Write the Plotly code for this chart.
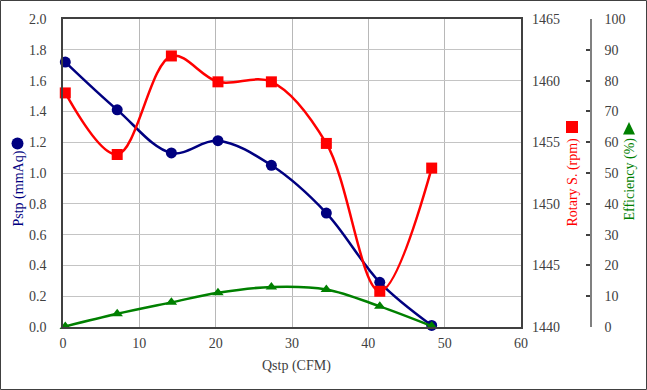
import plotly.graph_objects as go

# ---- data ----
qstp = [0.3, 7.1, 14.2, 20.3, 27.3, 34.5, 41.5, 48.3]
pstp = [1.72, 1.41, 1.13, 1.21, 1.05, 0.74, 0.29, 0.01]
rotary = [1459.0, 1454.0, 1462.0, 1459.9, 1459.9, 1454.9, 1442.9, 1452.9]
efficiency = [0.2, 4.3, 8.0, 11.1, 13.0, 12.2, 6.7, 0.3]

x_ticks = [0, 10, 20, 30, 40, 50, 60]

W, H = 647, 390
ML, MR, MT, MB = 63, 10, 19, 63
PW = W - ML - MR
PH = H - MT - MB
X_END = 521
EFF_X = 591


def px(xp):
    return (xp - ML) / PW


def py(yp):
    return (H - MB - yp) / PH


FONT = "Liberation Serif, Times New Roman, serif"
TICKC = "#404040"
NAVY = "#000080"
RED = "#FF0000"
GREEN = "#008000"

fig = go.Figure()
fig.add_trace(go.Scatter(
    x=qstp, y=pstp, mode="lines+markers", name="Pstp",
    line=dict(color=NAVY, width=2.5, shape="spline", smoothing=1.0),
    marker=dict(symbol="circle", size=11, color=NAVY),
    yaxis="y", cliponaxis=False))
fig.add_trace(go.Scatter(
    x=qstp, y=rotary, mode="lines+markers", name="Rotary S.",
    line=dict(color=RED, width=2.5, shape="spline", smoothing=1.0),
    marker=dict(symbol="square", size=11, color=RED),
    yaxis="y2", cliponaxis=False))
fig.add_trace(go.Scatter(
    x=qstp, y=efficiency, mode="lines+markers", name="Efficiency",
    line=dict(color=GREEN, width=2.5, shape="spline", smoothing=1.0),
    marker=dict(symbol="triangle-up", size=10, color=GREEN),
    yaxis="y3", cliponaxis=False))


def tf():
    return dict(family=FONT, size=14, color=TICKC)


fig.update_layout(
    template="none",
    width=W, height=H,
    margin=dict(l=ML, r=MR, t=MT, b=MB, autoexpand=False),
    paper_bgcolor="white", plot_bgcolor="white",
    showlegend=False,
    font=dict(family=FONT, size=14, color=TICKC),
    xaxis=dict(
        domain=[0, px(X_END)], range=[0, 60], tickvals=x_ticks,
        showgrid=True, gridcolor="#b8b8b8", gridwidth=1,
        showline=True, linecolor="#404040", linewidth=1.5, mirror=True,
        ticks="", tickfont=tf(), ticklabelstandoff=2, zeroline=False,
        automargin=False),
    yaxis=dict(
        range=[0, 2.0], dtick=0.2, tickformat=".1f",
        showgrid=True, gridcolor="#c4c4c4", gridwidth=1.3,
        showline=True, linecolor="#404040", linewidth=1.5, mirror=True,
        ticks="", tickfont=tf(), ticklabelstandoff=12, zeroline=False,
        automargin=False),
    yaxis2=dict(
        range=[1440, 1465], dtick=5, overlaying="y", side="right",
        anchor="x", showgrid=False, showline=False, zeroline=False,
        ticks="", tickfont=tf(), ticklabelstandoff=10, automargin=False),
    yaxis3=dict(
        range=[0, 100], dtick=10, overlaying="y", side="right",
        anchor="free", position=px(EFF_X), showgrid=False,
        showline=True, linecolor="#808080", linewidth=1.5, zeroline=False,
        ticks="inside", ticklen=4, tickcolor="#404040", tickwidth=1.5,
        tickfont=tf(), ticklabelstandoff=10, automargin=False),
)

ann = []
ann.append(dict(text="Qstp (CFM)", x=px(296), y=py(366), xref="paper", yref="paper",
                showarrow=False, xanchor="center", yanchor="middle",
                font=dict(family=FONT, size=14, color=TICKC)))
ann.append(dict(text="Pstp (mmAq)", x=px(18.5), y=py(189), xref="paper", yref="paper",
                showarrow=False, xanchor="center", yanchor="middle", textangle=-90,
                font=dict(family=FONT, size=14, color=NAVY)))
ann.append(dict(text="Rotary S. (rpm)", x=px(572), y=py(182.5), xref="paper", yref="paper",
                showarrow=False, xanchor="center", yanchor="middle", textangle=-90,
                font=dict(family=FONT, size=14, color=RED)))
ann.append(dict(text="Efficiency (%)", x=px(629), y=py(179.5), xref="paper", yref="paper",
                showarrow=False, xanchor="center", yanchor="middle", textangle=-90,
                font=dict(family=FONT, size=14, color=GREEN)))
fig.update_layout(annotations=ann)

shapes = []
shapes.append(dict(type="circle", xref="paper", yref="paper",
                   x0=px(11.5), x1=px(23.5), y0=py(149.5), y1=py(137.5),
                   fillcolor=NAVY, line=dict(width=0)))
shapes.append(dict(type="rect", xref="paper", yref="paper",
                   x0=px(566), x1=px(578), y0=py(133), y1=py(121),
                   fillcolor=RED, line=dict(width=0)))
shapes.append(dict(type="path", xref="paper", yref="paper",
                   path=f"M {px(623)} {py(134.5)} L {px(635)} {py(134.5)} L {px(629)} {py(122)} Z",
                   fillcolor=GREEN, line=dict(width=0)))
shapes.append(dict(type="rect", xref="paper", yref="paper",
                   x0=px(0.5), x1=px(W - 0.5), y0=py(H - 0.5), y1=py(0.5),
                   line=dict(color="#404040", width=1), fillcolor="rgba(0,0,0,0)",
                   layer="below"))
fig.update_layout(shapes=shapes)

fig.write_html(
    "out.html",
    config={"displayModeBar": False},
    post_script="document.body.style.margin='0';document.body.style.overflow='hidden';",
)
